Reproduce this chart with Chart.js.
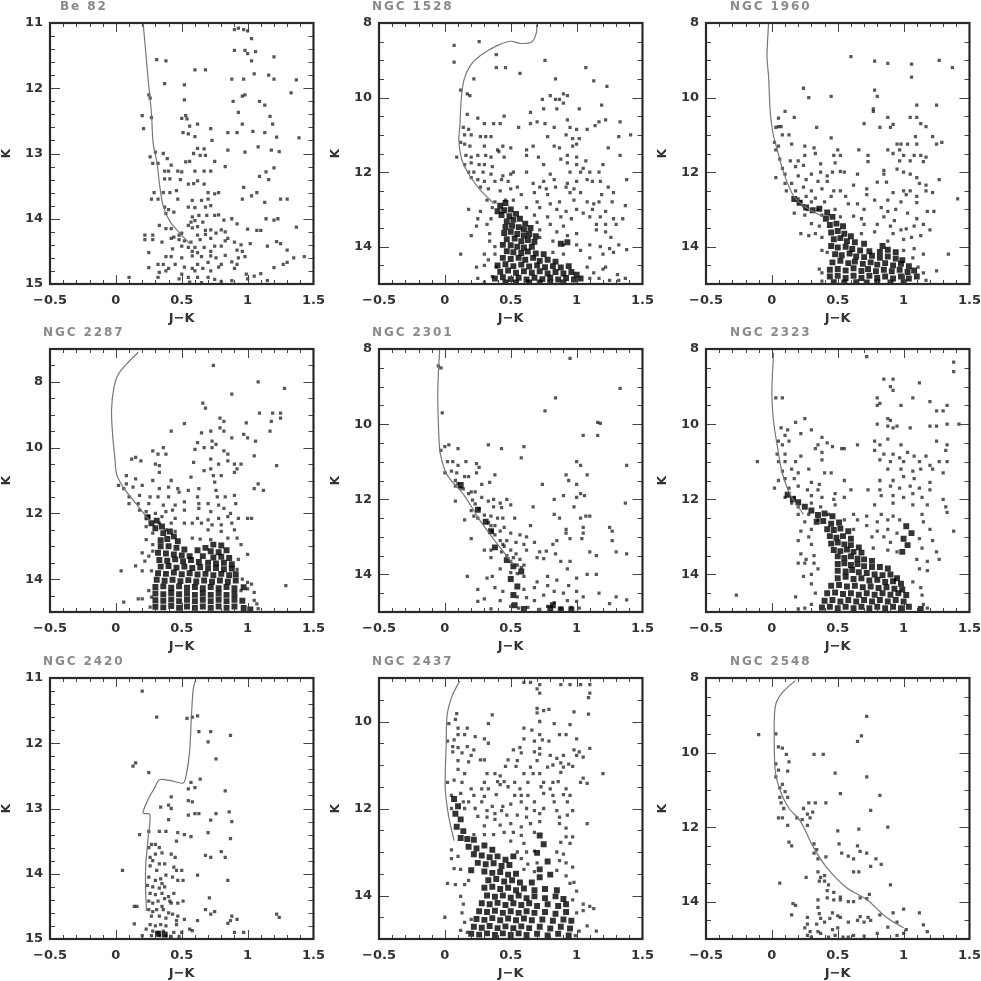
<!DOCTYPE html>
<html><head><meta charset="utf-8">
<style>html,body{margin:0;padding:0;background:#fff;width:981px;height:981px;overflow:hidden}canvas{position:absolute;filter:blur(.55px)}</style>
<script src="https://cdn.jsdelivr.net/npm/chart.js@4"></script>
</head><body>
<script>
const titles=["Be 82","NGC 1528","NGC 1960","NGC 2287","NGC 2301","NGC 2323","NGC 2420","NGC 2437","NGC 2548"];
const jTicks=[-0.5,0,0.5,1,1.5];
const jMinor=[-.4,-.3,-.2,-.1,.1,.2,.3,.4,.6,.7,.8,.9,1.1,1.2,1.3,1.4];
const kTicks=[[11,12,13,14,15],[8,10,12,14],[8,10,12,14],[8,10,12,14],[8,10,12,14],[8,10,12,14],[11,12,13,14,15],[10,12,14],[8,10,12,14]];
const kRange=[[11,15],[8,15],[8,15],[7,15],[8,15],[8,15],[11,15],[9,15],[8,15]];
const kMinorFine=[11.2,11.4,11.6,11.8,12.2,12.4,12.6,12.8,13.2,13.4,13.6,13.8,14.2,14.4,14.6,14.8];
const kMinorCoarse=[7.5,8.5,9,9.5,10.5,11,11.5,12.5,13,13.5,14.5];

const iso1=[.207,11,.225,11.41,.25,11.97,.27,12.38,.283,12.84,.313,13.15,.333,13.5,.36,13.81,.41,14.04,.485,14.22,.56,14.38];
const iso2=[.696,8.04,.696,8.24,.663,8.5,.575,8.55,.5,8.49,.4,8.6,.27,8.87,.195,9.13,.144,9.54,.124,10.07,.113,10.79,.106,11.14,.13,11.68,.195,12.13,.27,12.48,.37,12.84];
const iso3=[-.025,8,-.037,8.9,-.025,9.43,-.012,10.41,.008,10.95,.04,11.39,.09,12.02,.165,12.64,.266,12.96,.39,13.2];
const iso4=[.17,7.1,.08,7.46,.018,7.77,-.015,8.17,-.033,8.88,-.025,9.59,-.008,10.3,.005,10.8,.055,11.2,.157,11.72,.258,12.23];
const iso5=[-.04,8.03,-.054,9.13,-.046,10.28,-.034,10.8,.017,11.35,.144,11.88,.27,12.58,.4,13.2,.52,13.73];
const iso6=[.013,8.1,0,9.13,.013,9.93,.044,10.64,.076,11.26,.14,11.88,.24,12.4];
const iso7=[.6,11.05,.586,11.19,.573,11.61,.56,12.12,.535,12.48,.51,12.61,.41,12.57,.33,12.56,.295,12.68,.245,12.86,.207,13.07,.258,13.09,.245,13.45,.227,13.86,.225,14.16,.232,14.57];
const iso8=[.113,9.07,.055,9.41,.017,9.86,.01,10.55,.004,11.08,.004,11.6,.03,12.2,.07,12.74];
const iso9=[.178,8.07,.077,8.4,.026,8.76,.018,9.6,.026,10.5,.064,11.03,.127,11.48,.216,11.84,.317,12.55,.418,13.09,.57,13.63,.72,13.94,.873,14.43,1,14.7];

const stars1=[.9,11.1,.93,11.08,.97,11.1,1,11.12,1.03,11.24,.9,11.42,.98,11.42,1,11.47,1.06,11.44,1.03,11.58,1.2,11.52,.31,11.56,.38,11.58,.6,11.72,.68,11.72,.88,11.86,.97,11.86,1.05,11.78,1.16,11.8,1.2,11.86,1.37,11.87,.37,11.93,.52,11.95,.98,12.1,.96,12.12,1.33,12.07,.52,12.18,.89,12.2,1.09,12.2,1.13,12.26,.93,12.37,1.17,12.43,.5,12.46,.53,12.42,.54,12.47,.2,12.42,.27,12.45,.21,12.62,.25,12.1,.26,12.15,.62,12.55,.56,12.58,.96,12.55,1.19,12.55,.72,12.62,.85,12.68,.92,12.68,1.04,12.66,1.13,12.68,.51,12.68,.55,12.7,.6,12.74,.73,12.8,1.22,12.75,1.39,12.76,.62,12.92,.67,12.93,.85,12.95,.98,12.98,1.08,12.9,1.18,12.95,1.24,12.97,.59,13,.64,13.03,.68,13.03,.26,13.05,.3,12.98,.36,13,.39,13.08,.28,13.15,.32,13.15,.53,13.13,.56,13.12,.75,13.12,.83,13.2,.42,13.18,.37,13.27,.4,13.27,.47,13.27,.5,13.28,.6,13.27,.67,13.27,.72,13.27,1.09,13.35,1.14,13.28,1.2,13.22,1.16,13.4,.37,13.39,.41,13.39,.49,13.4,.55,13.47,.59,13.46,.62,13.42,.67,13.47,.97,13.52,.29,13.6,.36,13.6,.41,13.6,.46,13.57,.7,13.6,.75,13.62,.78,13.6,.96,13.7,1.03,13.65,1.07,13.6,1.13,13.75,1.25,13.7,1.3,13.7,.27,13.7,.32,13.7,.47,13.7,.58,13.72,.65,13.72,.7,13.7,.37,13.82,.4,13.86,.44,13.9,.55,13.82,.6,13.83,.68,13.82,.72,13.8,.38,13.92,.58,13.97,.63,13.95,.69,13.95,.75,13.95,.78,13.94,.82,14.02,1.14,14,1.2,14.02,1.23,14,.57,14.05,.6,14.03,.66,14.05,.88,14,.33,14.1,.38,14.15,.42,14.15,.55,14.1,.58,14.14,.62,14.12,.68,14.18,.72,14.17,.8,14.17,.92,14.08,1,14.16,1.07,14.18,1.1,14.18,1.37,14.13,.22,14.25,.28,14.25,.44,14.28,.48,14.25,.5,14.22,.62,14.25,.68,14.24,.76,14.22,.83,14.2,.85,14.3,.22,14.32,.28,14.32,.35,14.36,.42,14.3,.48,14.32,.52,14.34,.57,14.36,.64,14.32,.72,14.3,.83,14.34,.9,14.36,.95,14.4,1.02,14.38,1.15,14.42,1.22,14.35,1.25,14.38,.5,14.42,.55,14.44,.6,14.44,.67,14.44,.75,14.42,.8,14.42,.25,14.52,.43,14.46,.58,14.5,.62,14.52,.72,14.5,.92,14.48,.96,14.5,1.3,14.48,.38,14.58,.42,14.58,.5,14.6,.58,14.57,.65,14.58,.72,14.57,.76,14.6,.83,14.56,.93,14.6,.98,14.58,1.35,14.6,1.43,14.58,.32,14.7,.36,14.7,.4,14.76,.45,14.7,.52,14.74,.58,14.76,.62,14.7,.7,14.67,.8,14.7,.88,14.66,.92,14.7,1.27,14.7,1.3,14.67,.25,14.75,.33,14.82,.38,14.8,.5,14.85,.6,14.8,.66,14.76,.72,14.8,.78,14.74,.9,14.76,.99,14.85,1.05,14.88,1.1,14.84,1.2,14.75,.32,14.9,.48,14.92,.55,14.9,.62,14.9,.7,14.9,.75,14.93,.8,14.96,.88,14.95,1,14.92,1.15,14.95,.56,14.97,.65,14.98,.1,14.9];
const core1=[];
const stars2=[.07,8.6,.07,9.05,.26,8.5,.39,8.85,.39,9.2,.46,9.2,.57,9.35,.76,9,.84,9.5,1.07,9.2,1.13,9.55,1.23,9.7,.22,9.5,.12,9.8,.17,9.9,.19,9.95,.74,10.05,.8,9.95,.84,10.05,.87,10.05,.9,9.9,.93,9.95,.9,10.15,.85,10.3,1.02,10.3,1.19,10.2,.65,10.4,.75,10.3,.45,10.5,.25,10.55,.17,10.45,.65,10.7,.7,10.65,.76,10.7,.93,10.6,.95,10.8,1,10.85,1.17,10.65,1.22,10.6,1.33,10.65,.14,10.8,.18,10.85,.2,11,.3,10.7,.37,10.7,.42,10.7,.56,10.8,.83,10.8,1.08,10.85,1.14,10.75,.15,11,.27,11.05,.31,11.05,.35,11.05,.78,11.05,.92,11,.97,11.1,1.02,11.1,1.32,11.05,1.41,11,.12,11.2,.15,11.25,.19,11.3,.3,11.3,.4,11.4,.44,11.3,.5,11.35,.62,11.4,.67,11.3,.83,11.3,.87,11.35,.97,11.3,1,11.25,1.24,11.35,.09,11.6,.16,11.55,.2,11.6,.25,11.55,.31,11.55,.35,11.6,.41,11.45,.45,11.6,.62,11.55,.71,11.6,.88,11.65,.93,11.55,1,11.6,1.07,11.7,1.33,11.55,.15,11.8,.2,11.75,.26,11.8,.3,11.8,.36,11.85,.75,11.8,.93,11.75,1,11.8,1.05,11.9,1.2,11.8,.18,12,.22,12,.29,12,.35,12.05,.44,12.1,.5,12.05,.52,12,.62,12,.8,12.05,.95,12,1.03,12,1.1,12,1.17,12,.2,12.15,.25,12.2,.3,12.25,.38,12.25,.43,12.2,.48,12.25,.67,12.3,.75,12.25,.83,12.2,.93,12.3,1,12.25,1.08,12.2,1.12,12.25,1.18,12.25,1.38,12.2,.27,12.4,.33,12.45,.42,12.5,.5,12.45,.55,12.4,.72,12.4,.77,12.45,.84,12.4,.92,12.4,.98,12.45,1.24,12.4,.58,12.6,.68,12.55,.78,12.6,.95,12.55,1.03,12.55,1.19,12.6,1.28,12.55,.32,12.75,.38,12.8,.46,12.75,.52,12.75,.7,12.8,.8,12.85,.87,12.8,.98,12.75,1.08,12.8,1.13,12.85,1.17,12.8,1.27,12.8,1.37,12.9,.18,13,.27,13.05,.36,12.95,.62,12.95,.72,12.95,.85,13,.92,13.05,1,13,1.05,13.1,1.12,13,1.22,13.05,.25,13.25,.35,13.25,.68,13.15,.78,13.2,.88,13.2,.96,13.25,1.1,13.2,1.18,13.2,1.28,13.25,1.35,13.25,.24,13.45,.32,13.4,.7,13.35,.8,13.4,.9,13.45,1.15,13.4,1.22,13.4,1.3,13.4,.2,13.7,.34,13.65,.72,13.55,.85,13.6,.93,13.7,1,13.65,1.15,13.55,1.22,13.6,1.26,13.75,.12,14.2,.34,13.85,.38,14,.72,13.75,.82,13.85,.9,13.95,1,13.95,1.1,13.95,1.18,14,1.25,14.05,1.32,13.95,1.38,14.08,.3,14.2,.33,14.35,.38,14.2,.82,14.15,.9,14.2,1.03,14.1,1.1,14.3,1.2,14.2,1.28,14.15,.24,14.55,.3,14.5,.39,14.55,1.08,14.55,1.13,14.7,1.2,14.6,1.22,14.55,1.31,14.75,1.37,14.85,.25,14.85,.3,14.95,.36,14.8,1.1,14.85,1.17,14.85,1.25,14.9,1.32,14.9];
const core2=[.42,12.9,.46,12.83,.4,13.05,.45,13.02,.5,13,.43,13.15,.49,13.18,.54,13.12,.47,13.32,.52,13.28,.57,13.25,.61,13.38,.46,13.47,.51,13.44,.56,13.48,.6,13.53,.65,13.5,.45,13.63,.5,13.6,.55,13.66,.6,13.7,.64,13.66,.69,13.72,.47,13.8,.53,13.78,.58,13.85,.63,13.82,.68,13.87,.44,13.95,.5,13.96,.55,14,.6,14.02,.66,14,.47,14.12,.52,14.15,.58,14.17,.63,14.13,.69,14.18,.75,14.2,.44,14.3,.5,14.33,.56,14.3,.61,14.35,.67,14.3,.72,14.38,.78,14.35,.84,14.4,.4,14.5,.46,14.47,.52,14.52,.58,14.48,.64,14.53,.7,14.5,.76,14.55,.82,14.52,.88,14.56,.94,14.52,.42,14.67,.48,14.64,.54,14.7,.6,14.66,.66,14.7,.72,14.66,.78,14.72,.84,14.68,.9,14.72,.96,14.68,1,14.75,.38,14.85,.44,14.82,.5,14.87,.56,14.83,.62,14.88,.68,14.83,.74,14.87,.8,14.83,.86,14.88,.92,14.84,.98,14.88,1.03,14.85,.46,14.96,.54,14.96,.64,14.96,.72,14.96,.8,14.96,.9,14.96,.88,13.92,.93,13.88];
const stars3=[.6,8.9,.78,9.02,.88,9.08,1.06,9.1,1.27,9,1.37,9.2,1.06,9.45,.24,9.75,.28,10,.45,9.97,.78,9.8,.8,9.97,.77,10.3,.77,10.37,.1,10.37,.17,10.53,.05,10.55,.88,10.53,1.05,10.53,1.1,10.53,1.1,10.2,1.25,10.2,.03,10.8,.05,10.78,.07,10.78,.34,10.8,.7,10.7,.82,10.8,.9,10.8,.92,10.72,1.13,10.7,1.17,10.78,.08,11,.13,11,.45,11.08,1.09,11.05,1.22,11.05,.02,11.2,.05,11.3,.15,11.25,.25,11.3,.95,11.25,.98,11.25,1.03,11.25,1.1,11.25,1.25,11.25,1.29,11.2,.03,11.4,.32,11.35,.33,11.5,.5,11.4,.66,11.4,.88,11.4,.97,11.4,.25,11.55,.47,11.55,.52,11.55,.73,11.55,.92,11.5,1,11.55,1.08,11.55,1.13,11.55,1.17,11.6,.06,11.65,.14,11.7,.2,11.7,.37,11.78,.48,11.75,.73,11.72,.97,11.7,1.05,11.7,1.15,11.72,.08,11.9,.18,11.85,.24,11.82,.37,12,.46,12,.52,11.98,.85,11.95,.95,11.92,1,12,.03,12.15,.1,12.05,.2,12.1,.3,12.05,.42,12.1,.55,12,.65,12.05,.85,12.05,1.05,12.05,1.1,12.15,1.27,12.2,.1,12.3,.15,12.3,.26,12.2,.35,12.25,.42,12.25,.62,12.35,.8,12.27,.87,12.27,1.12,12.3,1.17,12.35,.11,12.5,.18,12.5,.24,12.4,.3,12.5,.38,12.45,.47,12.5,.52,12.5,.72,12.45,1,12.5,1.05,12.5,1.17,12.5,1.22,12.55,.2,12.72,.26,12.65,.33,12.7,.45,12.65,.56,12.65,.72,12.6,.92,12.55,1.02,12.6,1.1,12.65,1.41,12.72,.22,12.8,.24,12.9,.3,12.8,.4,12.8,.58,12.85,.65,12.85,.78,12.75,.88,12.75,.98,12.8,1.1,12.82,.17,13.1,.27,13,.35,13,.48,13,.7,13,.83,12.95,.88,13.05,.94,13,1.03,13.1,1.18,13.05,1.23,13.05,.25,13.15,.38,13.15,.52,13.2,.62,13.18,.68,13.25,.85,13.2,.93,13.3,1.1,13.25,1.15,13.4,.3,13.38,.36,13.45,.7,13.4,.8,13.4,.9,13.45,.98,13.55,1.02,13.52,1.08,13.45,1.2,13.55,.22,13.65,.28,13.7,.33,13.65,.38,13.75,.68,13.65,.78,13.6,.92,13.65,1,13.8,1.06,13.75,1.13,13.7,.38,14.1,.42,14.15,.88,13.85,1,14.1,1.08,14.05,1.34,14.2,1.15,14.2,1.07,14.3,.36,14.6,.38,14.7,1.11,14.55,1.15,14.7,1.25,14.65,.38,14.92,1.17,14.9];
const core3=[.17,12.72,.21,12.82,.26,12.95,.31,13.02,.36,12.98,.42,13.08,.41,13.25,.46,13.2,.44,13.42,.49,13.38,.54,13.45,.45,13.62,.5,13.58,.55,13.65,.6,13.72,.47,13.8,.52,13.77,.57,13.85,.63,13.88,.7,13.92,.84,13.98,.45,13.98,.5,14.02,.56,14,.61,14.06,.67,14.1,.74,14.12,.82,14.14,.88,14.08,.94,14.15,.48,14.2,.53,14.23,.59,14.18,.64,14.26,.7,14.28,.76,14.24,.82,14.3,.88,14.26,.94,14.32,.99,14.36,.46,14.42,.52,14.38,.58,14.44,.63,14.4,.69,14.46,.75,14.42,.8,14.48,.86,14.44,.92,14.5,.98,14.46,1.04,14.52,.44,14.62,.5,14.6,.56,14.64,.62,14.58,.68,14.65,.73,14.6,.79,14.66,.85,14.62,.91,14.66,.97,14.62,1.03,14.68,1.08,14.64,.44,14.8,.5,14.78,.56,14.84,.62,14.78,.68,14.84,.74,14.78,.8,14.84,.86,14.8,.92,14.85,.98,14.8,1.04,14.85,1.1,14.8,.47,14.95,.55,14.96,.64,14.95,.72,14.96,.8,14.95,.9,14.96,1,14.95];
const stars4=[.74,7.5,1.08,8,1.28,8.2,.88,8.37,.66,8.65,.68,8.8,1.09,8.95,1.19,8.95,1.25,8.95,1.25,9.1,1.18,9.2,.52,9.27,.79,9.1,.82,9.2,.99,9.25,1.17,9.5,.42,9.5,.65,9.55,.72,9.5,.79,9.4,.82,9.5,.97,9.6,1,9.7,.88,9.7,.62,9.85,.73,9.8,.76,9.9,1.06,9.8,.28,10.1,.36,10,.38,10.2,.32,10.2,.6,10.05,.67,10,.73,10,.82,10.1,.85,10.2,1.05,10.25,.12,10.35,.15,10.3,.19,10.4,.3,10.5,.33,10.55,.59,10.45,.72,10.35,.78,10.5,.85,10.4,.9,10.5,.95,10.5,.92,10.65,1.22,10.55,.33,10.75,.67,10.7,.72,10.65,.8,10.85,.9,10.75,.08,10.85,.15,10.95,.28,11,.42,11,.57,10.9,.74,10.85,.75,11.05,1.08,11.1,1.05,11.25,1.12,11.3,.08,11.1,.02,11.15,.06,11.25,.13,11.2,.2,11.15,.33,11.25,.4,11.2,.47,11.25,.55,11.3,.63,11.25,.76,11.3,.1,11.5,.18,11.45,.26,11.5,.32,11.5,.4,11.5,.48,11.35,.62,11.5,.77,11.5,.83,11.5,.9,11.45,.1,11.7,.17,11.7,.25,11.7,.36,11.75,.45,11.75,.52,11.65,.63,11.7,.7,11.7,.78,11.75,.91,11.7,.18,11.9,.23,11.95,.3,12,.38,11.95,.43,11.9,.52,11.9,.63,11.85,.72,11.95,.82,11.85,.87,12,.25,12.1,.35,12.1,.45,12.15,.62,12.15,.7,12.2,.78,12.15,.85,12.1,.93,12.15,1,12.15,1.03,12.15,.23,12.4,.33,12.3,.42,12.3,.52,12.3,.58,12.3,.65,12.3,.73,12.35,.8,12.35,.88,12.3,.28,12.6,.38,12.5,.45,12.55,.7,12.5,.8,12.55,.9,12.5,.23,12.8,.28,12.95,.58,12.75,.64,12.78,.72,12.8,.85,12.75,.92,12.75,.95,12.95,.2,13.2,.25,13.3,.22,13.45,.28,13.15,1,13.25,.93,13.4,.15,13.6,.2,13.75,.04,13.75,.27,13.75,.92,13.7,.96,14,1,14.1,1.03,14.15,.25,14.35,.27,14.55,.2,14.6,.17,14.6,.06,14.7,.95,14.35,1,14.3,1.05,14.4,1.05,14.65,1.07,14.75,1.08,14.9,1.29,14.2,.26,14.85];
const core4=[.24,12.12,.27,12.3,.31,12.22,.3,12.45,.35,12.4,.36,12.6,.41,12.55,.44,12.7,.34,12.82,.39,12.78,.47,12.85,.74,12.95,.8,12.98,.68,13.05,.34,13,.4,13,.46,13.05,.52,13.1,.62,13.12,.72,13.15,.78,13.18,.84,13.12,.32,13.2,.38,13.22,.44,13.25,.5,13.28,.56,13.3,.66,13.3,.74,13.34,.8,13.32,.86,13.36,.33,13.42,.39,13.44,.45,13.4,.51,13.46,.57,13.42,.63,13.48,.7,13.5,.76,13.52,.82,13.5,.88,13.55,.34,13.62,.4,13.6,.46,13.65,.52,13.62,.58,13.66,.64,13.64,.7,13.68,.76,13.66,.82,13.7,.88,13.68,.32,13.82,.38,13.84,.44,13.8,.5,13.85,.56,13.82,.62,13.86,.68,13.84,.74,13.88,.8,13.84,.86,13.88,.91,13.85,.31,14.02,.37,14.05,.43,14.02,.49,14.06,.55,14.03,.61,14.07,.67,14.04,.73,14.08,.79,14.04,.85,14.08,.91,14.04,.3,14.24,.36,14.22,.42,14.26,.48,14.22,.54,14.26,.6,14.24,.66,14.28,.72,14.24,.78,14.28,.84,14.24,.9,14.28,.97,14.25,.3,14.44,.36,14.46,.42,14.42,.48,14.46,.54,14.44,.6,14.48,.66,14.44,.72,14.48,.78,14.44,.84,14.48,.9,14.45,.3,14.64,.36,14.66,.42,14.62,.48,14.67,.54,14.63,.6,14.67,.66,14.63,.72,14.67,.78,14.63,.84,14.67,.9,14.63,.96,14.66,.3,14.84,.36,14.86,.42,14.82,.48,14.87,.54,14.83,.6,14.87,.66,14.83,.72,14.87,.78,14.83,.84,14.87,.9,14.83,.97,14.88,1.02,14.92];
const stars5=[.95,8.25,1.33,9.05,.84,9.3,.76,9.65,-.05,8.45,-.03,8.5,-.02,9.7,0,10.6,.03,10.55,.1,10.65,.33,10.55,.43,10.65,.6,10.6,.58,10.9,1,11,1.03,11.1,1.16,9.95,1.18,9.98,1.16,10.3,1.05,10.3,1.38,11.1,-.03,10.7,.02,11,.06,11,.1,11.1,.16,11,.24,11.05,.26,11.15,0,11.3,.05,11.25,.09,11.3,.15,11.4,.18,11.4,.24,11.3,.38,11.35,.34,11.55,.28,11.6,.92,11.35,.94,11.5,1.08,11.35,.74,11.6,1,11.6,.08,11.65,.12,11.7,.2,11.8,.23,11.8,.28,11.95,.83,12,.9,11.9,1,11.95,1.03,11.85,1.06,11.9,.08,12.05,.33,12.05,.37,12,.42,12.1,.47,12,.5,12.15,.37,12.2,.43,12.22,.67,12.2,.98,12.2,1.37,12.1,.15,12.55,.2,12.3,.22,12.45,.25,12.5,.35,12.45,.4,12.5,.44,12.5,.53,12.5,.83,12.4,.87,12.5,1.03,12.5,1.07,12.45,1.1,12.45,.65,12.7,.38,12.7,.45,12.75,.92,12.8,.92,12.9,1.05,12.75,1.05,12.9,1.25,12.75,1.27,12.85,.2,13.05,.42,12.85,.5,12.9,.57,12.95,.62,13,.47,13.1,1.04,13.05,.95,13.05,1.27,13.1,.85,13.1,.82,13.2,.3,13.35,.35,13.35,.44,13.2,.54,13.15,.6,13.2,.68,13.15,1.1,13.4,1.15,13.5,.52,13.55,.62,13.35,.72,13.4,.77,13.38,.84,13.45,1.3,13.4,1.38,13.45,.35,13.55,.43,13.4,.7,13.55,.75,13.58,.88,13.65,.95,13.65,.93,13.85,.42,13.85,.17,14.05,.36,14.05,.6,13.75,.78,14.05,.85,14.15,1,14.1,1.08,14,1.15,14,.7,14.2,.32,14.1,.25,14.4,.38,14.35,.44,14.45,.6,14.4,.68,14.35,.78,14.3,.83,14.45,.9,14.5,.94,14.3,1,14.45,1.05,14.6,1.17,14.5,1.3,14.6,1.38,14.68,.25,14.72,.3,14.65,.42,14.7,.55,14.6,.62,14.62,.68,14.7,.75,14.55,.83,14.75,.93,14.7,1,14.72,1.25,14.78,.35,14.92,.5,14.85,.56,14.9,.63,14.88,.72,14.93,.78,14.85,.88,14.9,.96,14.88,1.02,14.9,.08,11.5,.1,11.58,.14,11.72,.18,11.85,.21,12.02,.23,12.12,.26,12.25,.3,12.42,.33,12.62,.35,12.7,.36,12.85,.38,12.95,.42,13.1,.45,13.25,.5,13.35,.54,13.45,.47,13.5,.57,13.6,.5,13.65,.55,13.75,.58,13.82,.5,13.95,.55,13.98,.6,14.05];
const core5=[.12,11.62,.25,12.28,.31,12.6,.35,12.85,.38,13.28,.47,13.62,.52,13.78,.58,13.92,.5,14.12,.55,14.32,.52,14.55,.53,14.82,.6,14.92,.8,14.9,.88,14.93,.82,14.82,.96,14.93];
const stars6=[.72,8.2,1.38,8.35,1.38,8.6,.85,8.8,.92,8.8,.9,9,.92,9.1,1.12,8.9,.8,9.3,.08,9.3,.03,9.3,.82,9.45,.8,9.5,.98,9.5,1.07,9.3,1.2,9.4,1.33,9.5,1.25,9.65,1.3,9.65,.88,9.85,.9,9.9,.95,10.05,.25,9.85,.18,9.95,.8,10,.88,10.05,.92,10.1,1.05,10.1,1.2,10.05,1.25,10.05,1.33,10,1.42,10,.07,10.1,.12,10.15,.1,10.3,.22,10.25,.3,10.15,.05,10.45,.08,10.55,.13,10.45,.38,10.35,.35,10.55,.42,10.5,.46,10.6,.53,10.65,.55,10.65,.65,10.55,.78,10.45,.82,10.55,.88,10.4,.98,10.55,1.25,10.45,1.33,10.55,.04,10.8,.1,10.8,.22,10.85,.33,10.65,.38,10.75,.38,10.95,.78,10.7,.85,10.8,.92,10.8,.97,10.9,1.03,10.75,1.08,10.85,1.17,10.85,1.32,10.7,-.11,11,.05,11,.1,11,.18,11,.28,11.2,.82,10.95,.9,11,1,11,1.12,11,1.2,11.1,1.27,11,1.33,11,1.22,11.2,.08,11.25,.15,11.2,.2,11.3,.4,11.3,.45,11.3,.88,11.2,.98,11.2,1.07,11.25,1.13,11.2,1.3,11.3,.05,11.5,.1,11.45,.17,11.45,.3,11.55,.36,11.6,.55,11.5,.82,11.5,.92,11.5,1,11.4,1.08,11.45,1.2,11.55,.02,11.7,.13,11.7,.2,11.65,.27,11.75,.35,11.75,.48,11.85,.6,11.75,.73,11.75,.82,11.75,.9,11.65,.97,11.7,1.05,11.65,1.12,11.7,1.2,11.75,.1,11.95,.17,11.95,.3,11.9,.38,11.95,.47,12,.55,11.95,.83,11.9,.92,11.9,1,11.95,1.07,11.85,1.14,11.95,1.3,12,.15,12.1,.2,12.2,.3,12.1,.37,12.2,.48,12.15,.78,12.15,.92,12.1,1.07,12.15,1.18,12.15,1.32,12.2,.2,12.4,.28,12.4,.43,12.4,.62,12.4,.72,12.45,.83,12.4,.92,12.45,1.14,12.4,1.33,12.35,.25,12.6,.35,12.55,.55,12.55,.65,12.55,.8,12.6,.88,12.55,.97,12.55,1.15,12.6,1.38,12.85,.22,12.85,.3,12.8,.62,12.8,.72,12.7,.8,12.85,.88,12.8,.95,12.9,1.2,12.8,.2,13.1,.28,13,.3,13.2,.76,13,.85,13,.9,13.15,1.12,13.05,1.22,13.1,.22,13.45,.26,13.6,.32,13.5,.77,13.3,.88,13.35,.95,13.4,1.14,13.3,1.25,13.4,1.27,13.6,.2,13.7,.25,13.7,.32,13.7,1.1,13.6,1.18,13.65,.24,14.05,.3,14,.35,13.85,1.12,13.85,1.18,13.9,-.27,14.55,.18,14.6,.3,14.25,.33,14.5,1.07,14.2,1.13,14.35,1.14,14.55,.25,14.9,.3,14.8,.2,14.92,1.15,14.8,1.18,14.9];
const core6=[.12,11.88,.16,12,.2,12.08,.25,12.2,.3,12.3,.35,12.42,.4,12.38,.46,12.45,.34,12.6,.39,12.58,.45,12.65,.51,12.62,.42,12.8,.47,12.82,.52,12.78,.58,12.85,.44,12.98,.49,13.02,.54,12.98,.6,13.05,.45,13.18,.5,13.15,.55,13.2,.6,13.22,.66,13.28,.47,13.35,.52,13.38,.57,13.34,.62,13.4,.68,13.42,.5,13.52,.55,13.56,.6,13.52,.65,13.58,.7,13.6,.76,13.64,.5,13.72,.55,13.7,.6,13.75,.65,13.72,.7,13.78,.76,13.8,.82,13.8,.88,13.84,.5,13.9,.56,13.92,.61,13.88,.66,13.94,.72,13.96,.78,14,.84,14.02,.9,14,.95,14.1,.5,14.1,.56,14.06,.62,14.12,.68,14.1,.74,14.16,.8,14.14,.86,14.2,.92,14.18,.98,14.25,.45,14.3,.51,14.28,.57,14.32,.63,14.3,.69,14.34,.75,14.32,.81,14.36,.87,14.34,.93,14.38,.99,14.4,.42,14.5,.48,14.48,.54,14.52,.6,14.5,.66,14.54,.72,14.5,.78,14.54,.84,14.5,.9,14.54,.96,14.5,1.02,14.55,.4,14.7,.46,14.68,.52,14.72,.58,14.68,.64,14.72,.7,14.68,.76,14.72,.82,14.68,.88,14.72,.94,14.68,1,14.72,.38,14.88,.44,14.86,.5,14.9,.56,14.86,.62,14.9,.68,14.86,.74,14.9,.8,14.86,.86,14.9,.92,14.86,.98,14.9,1.04,14.86,1.13,14.92,1,13.05,1.03,13.22,1.02,12.72,.99,13.4,1.06,12.9];
const stars7=[.2,11.2,.31,11.6,.54,11.62,.58,11.6,.62,11.58,.63,11.82,.72,11.82,.87,11.88,.7,11.98,.76,12.24,.15,12.3,.13,12.35,.25,12.45,.64,12.55,.57,12.6,.55,12.7,.6,12.68,.83,12.73,.42,12.82,.4,12.95,.34,12.98,.42,13,.55,12.88,.58,12.9,.55,13.1,.6,13.08,.63,13.08,.76,13.08,.86,13.05,.4,13.17,.72,13.18,.88,13.2,.18,13.4,.25,13.35,.33,13.35,.38,13.35,.47,13.37,.52,13.4,.57,13.43,.7,13.37,.87,13.46,.46,13.5,.8,13.66,.72,13.75,.68,13.72,.83,13.75,.3,13.7,.35,13.68,.42,13.7,.45,13.75,.05,13.95,.37,13.85,.44,13.9,.46,13.95,.5,13.95,.62,14.02,.38,14.02,.43,14.05,.47,14.1,.51,14.1,.85,14.1,.35,14.15,.44,14.3,.4,14.35,.41,14.42,.42,14.45,.51,14.42,.47,14.45,.71,14.37,.75,14.58,.68,14.55,.72,14.62,.88,14.65,.87,14.72,.92,14.7,.85,14.76,1.22,14.62,1.24,14.67,.14,14.5,.16,14.5,.14,14.77,.4,14.6,.43,14.62,.47,14.65,.62,14.72,.46,14.72,.52,14.7,.46,14.78,.2,14.95,.44,14.9,.5,14.9,.56,14.85,.58,14.87,.9,14.9,.97,14.9,.25,13.6,.27,13.55,.3,13.55,.33,13.6,.26,13.75,.28,13.8,.33,13.85,.26,13.88,.31,13.95,.25,14.05,.3,14.1,.34,14.08,.24,14.18,.28,14.2,.33,14.22,.37,14.2,.26,14.3,.3,14.32,.35,14.3,.37,14.38,.25,14.42,.28,14.45,.32,14.42,.35,14.5,.25,14.55,.28,14.58,.31,14.55,.36,14.55,.27,14.65,.33,14.65,.38,14.68,.26,14.78,.3,14.8,.34,14.78,.38,14.8,.23,14.85,.28,14.88,.32,14.9,.36,14.88,.27,14.95,.33,14.95,.38,14.95,.42,14.96,.48,14.96];
const core7=[.32,14.92,.37,14.93];
const stars8=[.6,9.1,.65,9.1,.72,9.15,.88,9.15,.95,9.15,1.03,9.15,1.1,9.15,.7,9.25,.72,9.35,1.1,9.35,1.09,9.45,.7,9.7,.75,9.75,.79,9.72,.7,9.8,.98,9.78,1.09,9.83,.36,9.85,.09,9.82,.08,9.95,.33,10.05,.72,10,.83,10.05,.95,10.07,.03,10.05,.1,10.15,.17,10.15,.6,10.15,.66,10.2,.72,10.3,.87,10.3,.92,10.3,.1,10.3,.15,10.3,.23,10.35,.3,10.4,.33,10.5,.02,10.45,.07,10.42,.6,10.4,.68,10.45,.74,10.42,.79,10.45,1,10.4,.06,10.58,.1,10.6,.17,10.58,.22,10.65,.52,10.65,.57,10.6,.58,10.72,.72,10.62,.98,10.65,1.02,10.7,1.1,10.62,.06,10.7,.13,10.72,.2,10.78,.68,10.7,.72,10.75,.8,10.78,.85,10.85,.9,10.78,1,10.78,1.05,10.82,.1,10.9,.18,10.93,.27,10.88,.3,10.88,.48,10.88,.55,10.9,.7,10.9,.82,11,.88,10.95,.94,10.98,.46,11.03,.54,11.03,.65,11.05,.78,11.05,.9,11.05,.97,11.03,.1,11.1,.15,11.2,.32,11.2,.38,11.2,.42,11.25,.6,11.2,.67,11.2,.72,11.2,.88,11.17,1.2,11.2,1.05,11.3,.02,11.4,.07,11.35,.13,11.4,.3,11.4,.4,11.38,.45,11.38,.53,11.4,.63,11.4,.75,11.4,.82,11.4,.86,11.38,1.03,11.4,1.08,11.42,.2,11.55,.28,11.55,.33,11.55,.42,11.45,.48,11.5,.57,11.55,.73,11.5,.8,11.55,.92,11.55,.05,11.7,.12,11.65,.22,11.7,.3,11.72,.39,11.68,.53,11.7,.58,11.7,.63,11.7,.75,11.65,.82,11.7,.9,11.68,.95,11.7,.14,11.85,.18,11.85,.28,11.85,.36,11.95,.44,11.95,.5,11.9,.58,11.85,.68,11.85,.83,11.85,.93,11.85,.05,12,.15,12,.23,12,.32,12.05,.38,12.12,.43,12.05,.62,12,.68,12.05,.75,12,.85,12.05,.97,12.05,.25,12.18,.32,12.2,.38,12.25,.47,12.15,.55,12.15,.62,12.2,.72,12.12,.87,12.2,.93,12.15,1.08,12.35,.3,12.4,.42,12.38,.5,12.35,.58,12.42,.65,12.35,.72,12.3,.87,12.35,.92,12.45,.22,12.6,.3,12.6,.37,12.6,.45,12.55,.52,12.55,.58,12.62,.68,12.55,.92,12.65,.97,12.65,.5,12.75,.6,12.8,.88,12.78,.95,12.8,.55,13,.62,13,.68,12.98,.85,13,.9,13.05,.05,12.95,.05,13.15,.1,13.1,.58,13.15,.63,13.28,.7,13.25,.87,13.2,.92,13.25,.97,13.35,.07,13.38,.12,13.4,.6,13.4,.68,13.45,.85,13.42,.92,13.55,.98,13.7,.02,13.72,.08,13.75,.15,13.75,.18,13.65,.95,13.72,1,13.9,.97,14.1,1.05,14.2,1.1,14.25,.12,14.02,.14,14.2,1,14.4,1.05,14.35,1.13,14.3,0,14.5,.13,14.4,.15,14.62,1.08,14.7,1.02,14.82,.12,14.8,.2,14.55,.17,14.85,1.15,14.82,.99,14.92];
const core8=[.07,11.78,.1,11.95,.08,12.12,.12,12.25,.09,12.42,.14,12.52,.12,12.68,.17,12.7,.22,12.72,.18,12.88,.24,12.92,.3,12.85,.36,12.95,.22,13.05,.28,13.08,.34,13.12,.4,13.1,.46,13.18,.52,13.1,.25,13.25,.31,13.28,.37,13.26,.43,13.32,.49,13.3,.72,12.62,.75,12.82,.7,13.02,.78,13.22,.72,13.4,.8,13.52,.72,13.58,.2,13.42,.3,13.45,.36,13.48,.42,13.46,.48,13.52,.54,13.5,.33,13.65,.39,13.62,.45,13.68,.51,13.65,.57,13.7,.66,13.7,.3,13.82,.36,13.8,.42,13.85,.48,13.82,.54,13.88,.6,13.84,.68,13.88,.76,13.85,.85,13.88,.32,14,.38,14.03,.44,14,.5,14.05,.56,14,.62,14.06,.68,14.02,.76,14.06,.84,14.02,.9,14.08,.28,14.18,.34,14.2,.4,14.17,.46,14.22,.52,14.18,.58,14.22,.64,14.18,.7,14.24,.78,14.2,.86,14.24,.92,14.2,.26,14.36,.32,14.38,.38,14.35,.44,14.4,.5,14.36,.56,14.4,.62,14.36,.68,14.4,.76,14.38,.84,14.42,.92,14.38,.24,14.54,.3,14.56,.36,14.52,.42,14.57,.48,14.53,.54,14.57,.6,14.53,.66,14.57,.74,14.55,.82,14.58,.9,14.55,.96,14.58,.22,14.72,.28,14.74,.34,14.7,.4,14.75,.46,14.71,.52,14.75,.58,14.71,.64,14.75,.72,14.72,.8,14.76,.88,14.72,.95,14.76,.2,14.88,.26,14.9,.32,14.87,.38,14.91,.44,14.87,.5,14.91,.56,14.87,.62,14.91,.7,14.88,.78,14.92,.86,14.88,.94,14.92];
const stars9=[.72,9.03,-.1,9.52,.03,9.5,.68,9.55,.65,9.7,.05,9.85,.08,9.88,.11,10.05,.32,10.05,.39,10.05,.03,10.3,.13,10.25,.05,10.47,.12,10.5,.48,10.55,.72,10.65,.03,10.65,.08,10.85,.06,10.95,.1,11.05,.52,11.1,.82,11.15,.06,11.2,.12,11.2,.07,11.35,.28,11.35,.33,11.35,.41,11.35,.09,11.5,.24,11.5,.75,11.55,.05,11.75,.08,11.75,.31,11.6,.27,11.65,.19,11.75,.23,11.8,.29,11.75,.12,11.95,.27,11.95,.5,12.1,.88,12,.66,12.05,.13,12.4,.15,12.5,.32,12.45,.51,12.45,.65,12.5,.34,12.6,.53,12.7,.58,12.78,.67,12.65,.72,12.7,.32,12.7,.35,12.85,.41,12.8,.62,12.85,.79,12.85,.75,13.05,.83,13,.35,13.2,.62,13.2,.66,13.2,.26,13.35,.37,13.35,.4,13.3,.4,13.45,.06,13.5,.36,13.45,.43,13.55,.9,13.55,.42,13.7,.47,13.75,.52,13.88,.74,13.8,.42,13.9,.35,13.95,.47,13.95,.52,13.95,.58,14,.62,14,.67,13.9,.72,13.92,.16,14.05,.18,14.1,.35,14.15,.36,14.32,.37,14.45,.46,14.3,.5,14.38,.44,14.45,.52,14.42,.4,14.55,.34,14.6,.27,14.6,.15,14.35,.27,14.42,.58,14.55,.67,14.4,.73,14.42,.82,14.35,.92,14.3,1,14.2,1.12,14.3,.95,14.55,.75,14.5,.7,14.55,.65,14.5,.25,14.7,.29,14.8,.27,14.9,.35,14.8,.37,14.85,.46,14.75,.5,14.7,.88,14.68,1.02,14.75,1.15,14.62,1.18,14.8,.8,14.85,.3,14.95,.43,14.95,.48,14.9,.54,14.95,.58,14.95,.62,14.9,.7,14.92,.95,14.9,1,14.85];
const core9=[];

const starSets=[stars1,stars2,stars3,stars4,stars5,stars6,stars7,stars8,stars9];
const coreSets=[core1,core2,core3,core4,core5,core6,core7,core8,core9];
const isoSets=[iso1,iso2,iso3,iso4,iso5,iso6,iso7,iso8,iso9];

// layout of the nine panels, in page pixels
const plotLefts=[50,379,706];
const plotTops=[23,349,678];
const plotHeights=[261,263,261];
const plotWidth=263;
const titleLefts=[[60,372,730],[43,372,730],[43,372,730]];

function pairs(flat){const out=[];for(let i=0;i<flat.length;i+=2)out.push({x:flat[i],y:flat[i+1]});return out;}
const lbl=v=>v<0?'\u2212'+Math.abs(v):String(v);

const framePlugin={
  id:'frame',
  afterLayout(chart){
    const o=chart.options.plugins.frame,b=chart.titleBlock;
    const w=b.right-b.left;b.left=o.titleLeft;b.right=b.left+w;
    if(!b._spaced){b._spaced=true;const d=b.draw.bind(b);
      b.draw=function(){const c=chart.ctx;c.save();c.letterSpacing='1.9px';d();c.restore();};}
  },
  afterDatasetsDraw(chart){
    const o=chart.options.plugins.frame,a=chart.chartArea,c=chart.ctx,sx=chart.scales.x,sy=chart.scales.y;
    c.save();c.strokeStyle='#444';c.lineWidth=1;c.beginPath();
    const vt=(v,l)=>{const p=Math.round(sx.getPixelForValue(v))+.5;c.moveTo(p,a.top);c.lineTo(p,a.top+l);c.moveTo(p,a.bottom);c.lineTo(p,a.bottom-l);};
    const ht=(v,l)=>{const p=Math.round(sy.getPixelForValue(v))+.5;c.moveTo(a.left,p);c.lineTo(a.left+l,p);c.moveTo(a.right,p);c.lineTo(a.right-l,p);};
    jTicks.forEach(v=>vt(v,9));jMinor.forEach(v=>vt(v,4));
    o.majors.forEach(v=>ht(v,10));o.minors.forEach(v=>ht(v,5));
    c.stroke();
    c.strokeStyle='#2a2a2a';c.lineWidth=2.2;c.strokeRect(a.left,a.top,a.right-a.left,a.bottom-a.top);
    c.restore();
  }
};

titles.forEach((name,i)=>{
  const col=i%3,row=Math.floor(i/3);
  const cv=document.createElement('canvas');
  const h=23+plotHeights[row]+42,w=50+plotWidth+21;
  cv.width=w;cv.height=h;
  cv.style.left=(plotLefts[col]-50)+'px';cv.style.top=(plotTops[row]-23)+'px';
  cv.style.width=w+'px';cv.style.height=h+'px';
  document.body.appendChild(cv);
  const [kMin,kMax]=kRange[i];
  const src=(kMax-kMin===4)?kMinorFine:kMinorCoarse;
  const minors=src.filter(v=>v>kMin&&v<kMax&&!kTicks[i].includes(v));
  new Chart(cv,{
    type:'scatter',
    data:{datasets:[
      {label:'stars',data:pairs(starSets[i]),pointStyle:'rect',pointRadius:2.3,pointBorderWidth:0,backgroundColor:'rgba(0,0,0,.66)',order:2},
      {label:'dense',data:pairs(coreSets[i]),pointStyle:'rect',pointRadius:4.2,pointBorderWidth:0,backgroundColor:'rgba(0,0,0,.8)',order:3},
      {label:'isochrone',data:pairs(isoSets[i]),showLine:true,tension:.3,pointRadius:0,borderColor:'#777',borderWidth:1.2,order:1}
    ]},
    options:{
      responsive:false,animation:false,
      layout:{padding:{right:0}},
      plugins:{
        legend:{display:false},tooltip:{enabled:false},
        title:{display:true,text:name,align:'start',color:'#8a8a8a',
          font:{family:'DejaVu Sans',size:12,lineHeight:1},padding:{top:1,bottom:10}},
        frame:{titleLeft:titleLefts[row][col]-(plotLefts[col]-50),majors:kTicks[i],minors}
      },
      scales:{
        x:{type:'linear',min:-0.5,max:1.5,
          afterBuildTicks:s=>{s.ticks=jTicks.map(v=>({value:v}));},
          afterFit:s=>{s.height=42;},
          grid:{display:false,drawTicks:false},border:{display:false},
          ticks:{autoSkip:false,maxRotation:0,padding:9,color:'#333',font:{family:'DejaVu Sans',size:13,weight:'bold'},callback:lbl},
          title:{display:true,text:'J\u2212K',color:'#333',font:{family:'DejaVu Sans',size:13,weight:'bold',lineHeight:1.2},padding:0}},
        y:{type:'linear',min:kMin,max:kMax,reverse:true,
          afterBuildTicks:s=>{s.ticks=kTicks[i].map(v=>({value:v}));},
          afterFit:s=>{s.width=50;},
          grid:{display:false,drawTicks:false},border:{display:false},
          ticks:{autoSkip:false,padding:7,color:'#333',font:{family:'DejaVu Sans',size:13,weight:'bold'},callback:lbl},
          title:{display:true,text:'K',color:'#333',font:{family:'DejaVu Sans',size:12,weight:'bold',lineHeight:1.2},padding:0}}
      }
    },
    plugins:[framePlugin]
  });
});
</script>
</body></html>
